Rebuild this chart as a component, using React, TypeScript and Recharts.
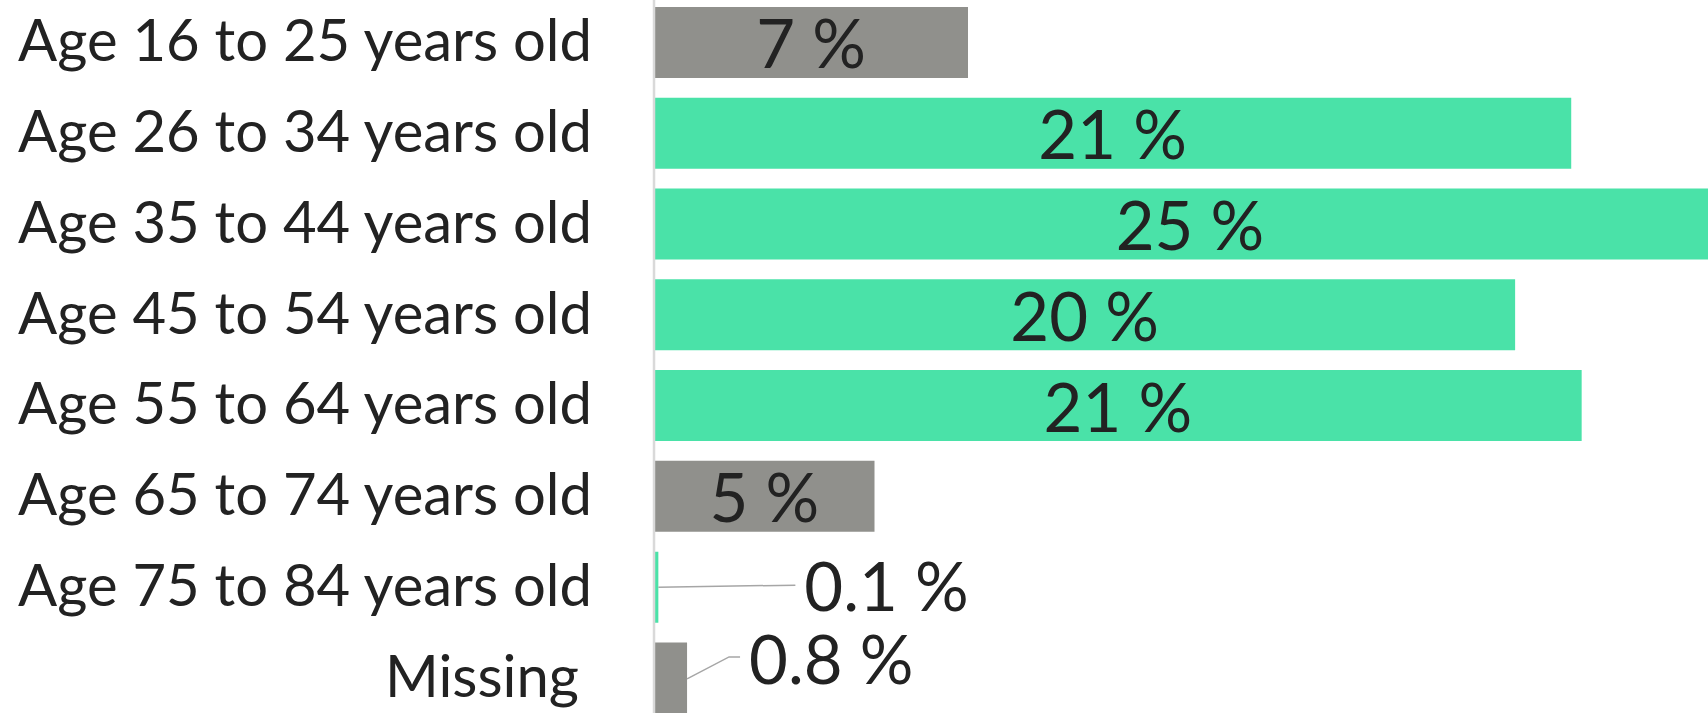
import React from "react";
import { BarChart, Bar, XAxis, YAxis, Cell, LabelList } from "recharts";

const categories = [
  "Age 16 to 25 years old",
  "Age 26 to 34 years old",
  "Age 35 to 44 years old",
  "Age 45 to 54 years old",
  "Age 55 to 64 years old",
  "Age 65 to 74 years old",
  "Age 75 to 84 years old",
  "Missing",
];
const values = [7.22, 21.09, 24.65, 19.8, 21.33, 5.07, 0.1, 0.76];
const valueLabels = ["7 %", "21 %", "25 %", "20 %", "21 %", "5 %", "0.1 %", "0.8 %"];
const highlighted = [false, true, true, true, true, false, true, false];

const data = categories.map((name, i) => ({ name, value: values[i] }));

const GREEN = "#4AE2A8";
const GRAY = "#90908C";
const TEXT = "#222222";
const FONT = "Lato, 'Open Sans', sans-serif";

const renderTick = (props: any) => {
  const { x, y, payload, index } = props;
  const dx = index === categories.length - 1 ? -13 : 0;
  return (
    <text x={x} y={y} dx={dx} dy={19} textAnchor="end" fontSize={58} fontFamily={FONT} fill={TEXT}>
      {payload.value}
    </text>
  );
};

const renderLabel = (props: any) => {
  const { x, y, width, height, index } = props;
  const text = valueLabels[index];
  const cy = y + height / 2;
  const endX = x + width;
  const common = { fontSize: 67, fontFamily: FONT, fill: TEXT } as any;
  if (values[index] >= 1) {
    return (
      <text x={x + width / 2} y={cy + 26} textAnchor="middle" {...common}>
        {text}
      </text>
    );
  }
  if (index === 6) {
    return (
      <g>
        <line x1={endX} y1={cy} x2={endX + 137} y2={cy - 2} stroke="#A6A6A6" strokeWidth={1.5} />
        <text x={endX + 146} y={cy + 24} textAnchor="start" {...common}>
          {text}
        </text>
      </g>
    );
  }
  return (
    <g>
      <polyline
        points={`${endX},${cy + 1} ${endX + 42},${cy - 21} ${endX + 53},${cy - 21}`}
        fill="none"
        stroke="#A6A6A6"
        strokeWidth={1.5}
      />
      <text x={endX + 62} y={cy + 6} textAnchor="start" {...common}>
        {text}
      </text>
    </g>
  );
};

export default function App() {
  return (
    <div
      style={{
        position: "fixed",
        top: 0,
        left: 0,
        width: 1708,
        height: 713,
        overflow: "hidden",
        background: "#ffffff",
      }}
    >
      <div style={{ position: "absolute", top: -2.6, left: 0 }}>
        <BarChart
          width={1800}
          height={726.2}
          data={data}
          layout="vertical"
          margin={{ top: 0, right: 0, bottom: 0, left: 0 }}
        >
          <XAxis type="number" hide domain={[0, 26.35]} allowDataOverflow />
          <YAxis
            type="category"
            dataKey="name"
            width={654}
            tickLine={false}
            tickSize={0}
            tickMargin={62}
            axisLine={{ stroke: "#D9D9D9", strokeWidth: 2.5 }}
            tick={renderTick}
            interval={0}
          />
          <Bar dataKey="value" barSize={71} isAnimationActive={false}>
            {data.map((d, i) => (
              <Cell key={d.name} fill={highlighted[i] ? GREEN : GRAY} />
            ))}
            <LabelList dataKey="value" content={renderLabel} />
          </Bar>
        </BarChart>
      </div>
    </div>
  );
}
